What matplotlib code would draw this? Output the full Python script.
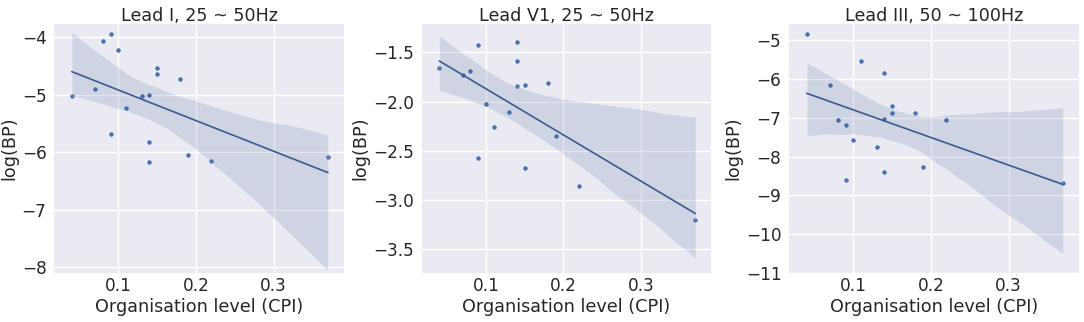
import matplotlib
matplotlib.use("Agg")
import matplotlib.pyplot as plt
import numpy as np
import seaborn as sns

# CPI per patient (same for every panel)
cpi = [0.04, 0.07, 0.08, 0.09, 0.09, 0.10, 0.11, 0.13, 0.14, 0.14, 0.14,
       0.15, 0.15, 0.18, 0.19, 0.22, 0.37]

# log band power
bp_lead_i = [-5.03, -4.90, -4.06, -3.95, -5.68, -4.23, -5.23, -5.03, -5.01,
             -5.83, -6.17, -4.53, -4.64, -4.73, -6.05, -6.15, -6.09]
bp_lead_v1 = [-1.66, -1.73, -1.69, -1.43, -2.57, -2.02, -2.26, -2.11, -1.40,
              -1.59, -1.84, -1.83, -2.67, -1.81, -2.35, -2.86, -3.20]
bp_lead_iii = [-4.85, -6.15, -7.07, -7.19, -8.61, -7.57, -5.55, -7.75, -5.86,
               -7.03, -8.41, -6.70, -6.88, -6.89, -8.26, -7.07, -8.67]

titles = ["Lead I, 25 ~ 50Hz", "Lead V1, 25 ~ 50Hz", "Lead III, 50 ~ 100Hz"]
series = [bp_lead_i, bp_lead_v1, bp_lead_iii]
ylims = [(-8.12, -3.75), (-3.75, -1.20), (-11.02, -4.56)]
yticks = [np.arange(-8, -3.9, 1), np.arange(-3.5, -1.4, 0.5), np.arange(-11, -4.9, 1)]

sns.set_theme(style="darkgrid")

fig, axes = plt.subplots(1, 3, figsize=(10.84, 3.22), dpi=100)
plt.subplots_adjust(left=0.049, right=0.9963, top=0.9295, bottom=0.149, wspace=0.259)

for ax, y, title, ylim, yt in zip(axes, series, titles, ylims, yticks):
    sns.regplot(x=np.array(cpi), y=np.array(y), ax=ax, seed=0,
                color="#4c72b0",
                scatter_kws=dict(s=15, edgecolor="white", linewidths=0.5, alpha=1),
                line_kws=dict(lw=1.2, color="#3b5a93"))
    ax.set_xlim(0.016, 0.392)
    ax.set_ylim(*ylim)
    ax.set_xticks([0.1, 0.2, 0.3])
    ax.set_yticks(yt)
    ax.set_title(title, fontsize=12.6, pad=1.5)
    ax.set_xlabel("Organisation level (CPI)", fontsize=12.7, labelpad=1.5)
    ax.set_ylabel("log(BP)", fontsize=12.7, labelpad=2.5)
    ax.tick_params(axis="y", labelsize=12.2, length=0, pad=4.8)
    ax.tick_params(axis="x", labelsize=12.2, length=0, pad=2.5)

plt.savefig("out.png", dpi=100)
